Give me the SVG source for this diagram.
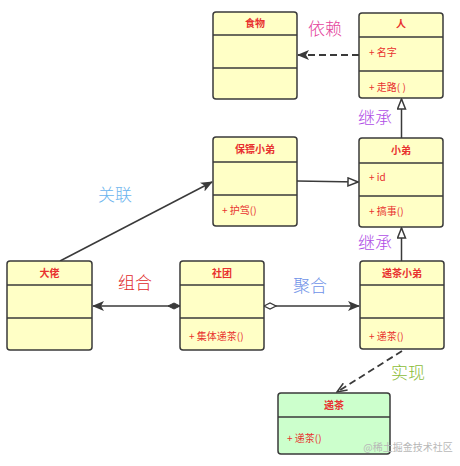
<svg xmlns="http://www.w3.org/2000/svg" width="460" height="466" viewBox="0 0 460 466">
<style>
.box{fill:#ffffc6;stroke:#3a3a3a;stroke-width:1.5}
.gbox{fill:#ccffcc;stroke:#3a3a3a;stroke-width:1.5}
.div{stroke:#3a3a3a;stroke-width:1.5}
.t{font-family:"Noto Sans CJK SC",sans-serif;font-size:10px;font-weight:bold;fill:#e8312f;text-anchor:middle}
.m{font-family:"Noto Sans CJK SC",sans-serif;font-size:10px;fill:#e8312f}
.lbl{font-family:"Noto Sans CJK SC",sans-serif;font-size:17px;font-weight:300}
.ln{stroke:#3a3a3a;stroke-width:1.5;fill:none}
.dash{stroke-width:1.8;stroke-dasharray:7,4}
</style>
<defs>
<marker id="filled" viewBox="0 0 12 10" refX="11" refY="5" markerWidth="12" markerHeight="10" markerUnits="userSpaceOnUse" orient="auto">
<path d="M0,0 L12,5 L0,10 L3,5 Z" fill="#3a3a3a"/>
</marker>
<marker id="tri" viewBox="0 0 12 10" refX="11" refY="5" markerWidth="12" markerHeight="10" markerUnits="userSpaceOnUse" orient="auto">
<path d="M1,1 L11,5 L1,9 Z" fill="#fff" stroke="#3a3a3a" stroke-width="1.5"/>
</marker>
<marker id="open" viewBox="0 0 12 10" refX="11" refY="5" markerWidth="12" markerHeight="10" markerUnits="userSpaceOnUse" orient="auto">
<path d="M1,1 L11,5 L1,9" fill="none" stroke="#3a3a3a" stroke-width="1.5"/>
</marker>
<marker id="fdia" viewBox="0 0 14 8" refX="1" refY="4" markerWidth="14" markerHeight="8" markerUnits="userSpaceOnUse" orient="auto">
<path d="M1,4 L7,1 L13,4 L7,7 Z" fill="#3a3a3a" stroke="#3a3a3a" stroke-width="1"/>
</marker>
<marker id="hdia" viewBox="0 0 14 8" refX="1" refY="4" markerWidth="14" markerHeight="8" markerUnits="userSpaceOnUse" orient="auto">
<path d="M1,4 L7,1 L13,4 L7,7 Z" fill="#fff" stroke="#3a3a3a" stroke-width="1.2"/>
</marker>
</defs>
<rect width="460" height="466" fill="#fff"/>

<g id="connectors">
<line class="ln dash" x1="359" y1="55" x2="298" y2="55" marker-end="url(#filled)"/>
<line class="ln" x1="401.5" y1="138" x2="401.5" y2="99" marker-end="url(#tri)"/>
<line class="ln" x1="297" y1="181" x2="358" y2="182" marker-end="url(#tri)"/>
<line class="ln" x1="401.5" y1="261" x2="401.5" y2="228" marker-end="url(#tri)"/>
<line class="ln" x1="60" y1="261" x2="212" y2="182" marker-end="url(#filled)"/>
<line class="ln" x1="180" y1="306" x2="93" y2="306" marker-start="url(#fdia)" marker-end="url(#filled)"/>
<line class="ln" x1="264" y1="306" x2="359" y2="306" marker-start="url(#hdia)" marker-end="url(#filled)"/>
<line class="ln dash" x1="402" y1="351" x2="337" y2="392" marker-end="url(#open)"/>
<text class="lbl" x="325" y="35" text-anchor="middle" fill="#e4449c">依赖</text>
<text class="lbl" x="375" y="124" text-anchor="middle" fill="#b04ee6">继承</text>
<text class="lbl" x="115" y="201" text-anchor="middle" fill="#6ab4ee">关联</text>
<text class="lbl" x="375" y="249" text-anchor="middle" fill="#b04ee6">继承</text>
<text class="lbl" x="135" y="289" text-anchor="middle" fill="#e02828">组合</text>
<text class="lbl" x="310" y="292" text-anchor="middle" fill="#6e92e8">聚合</text>
<text class="lbl" x="408" y="379" text-anchor="middle" fill="#8cbc38">实现</text>
</g>

<g id="food">
<rect class="box" x="213" y="12" width="84" height="87" rx="3"/>
<line class="div" x1="213" y1="35" x2="297" y2="35"/>
<line class="div" x1="213" y1="68" x2="297" y2="68"/>
<text class="t" x="255" y="27">食物</text>
</g>

<g id="person">
<rect class="box" x="359" y="13" width="84" height="85" rx="3"/>
<line class="div" x1="359" y1="37" x2="443" y2="37"/>
<line class="div" x1="359" y1="71" x2="443" y2="71"/>
<text class="t" x="401" y="28">人</text>
<text class="m" x="369" y="56">+ 名字</text>
<text class="m" x="369" y="91">+ 走路( )</text>
</g>

<g id="bodyguard">
<rect class="box" x="213" y="137" width="84" height="89" rx="3"/>
<line class="div" x1="213" y1="162" x2="297" y2="162"/>
<line class="div" x1="213" y1="195" x2="297" y2="195"/>
<text class="t" x="255" y="153">保镖小弟</text>
<text class="m" x="222" y="214">+ 护驾()</text>
</g>

<g id="minion">
<rect class="box" x="359" y="138" width="84" height="89" rx="3"/>
<line class="div" x1="359" y1="163" x2="443" y2="163"/>
<line class="div" x1="359" y1="196" x2="443" y2="196"/>
<text class="t" x="401" y="154">小弟</text>
<text class="m" x="369" y="181">+ id</text>
<text class="m" x="369" y="215">+ 搞事()</text>
</g>

<g id="boss">
<rect class="box" x="7" y="261" width="85" height="89" rx="3"/>
<line class="div" x1="7" y1="285" x2="92" y2="285"/>
<line class="div" x1="7" y1="318" x2="92" y2="318"/>
<text class="t" x="49.5" y="277">大佬</text>
</g>

<g id="club">
<rect class="box" x="180" y="261" width="84" height="89" rx="3"/>
<line class="div" x1="180" y1="285" x2="264" y2="285"/>
<line class="div" x1="180" y1="318" x2="264" y2="318"/>
<text class="t" x="222" y="277">社团</text>
<text class="m" x="189" y="340">+ 集体递茶()</text>
</g>

<g id="teaminion">
<rect class="box" x="360" y="261" width="84" height="88" rx="3"/>
<line class="div" x1="360" y1="285" x2="444" y2="285"/>
<line class="div" x1="360" y1="318" x2="444" y2="318"/>
<text class="t" x="402" y="277">递茶小弟</text>
<text class="m" x="369" y="340">+ 递茶()</text>
</g>

<g id="servetea">
<rect class="gbox" x="278" y="393" width="112" height="61" rx="3"/>
<line class="div" x1="278" y1="417" x2="390" y2="417"/>
<text class="t" x="334" y="409">递茶</text>
<text class="m" x="287" y="442">+ 递茶()</text>
</g>

<text x="408" y="451" text-anchor="middle" font-family="'Noto Sans CJK SC',sans-serif" font-size="10" fill="#b8b8b8">@稀土掘金技术社区</text>
</svg>
